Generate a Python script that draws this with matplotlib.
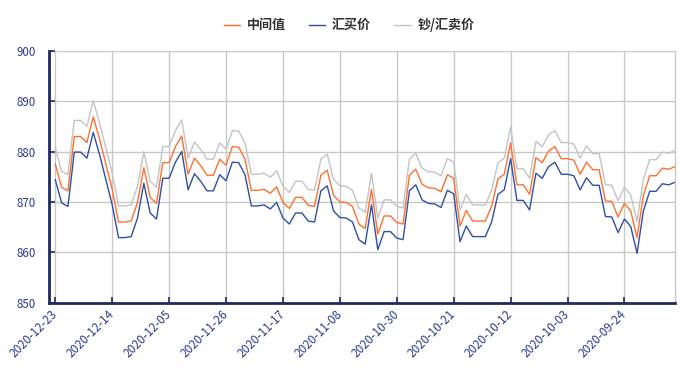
import matplotlib
matplotlib.use("Agg")
import matplotlib.pyplot as plt

plt.rcParams['font.family'] = ['Noto Sans CJK SC', 'DejaVu Sans']

# 2020-12-23 (left) back to 2020-09-16 (right), one value per day
tick_labels = ["2020-12-23", "2020-12-14", "2020-12-05", "2020-11-26", "2020-11-17",
               "2020-11-08", "2020-10-30", "2020-10-21", "2020-10-12", "2020-10-03",
               "2020-09-24"]

mid = [877.5, 872.9, 872.2, 883.0, 883.0, 881.8, 886.9, 882.5, 877.5, 872.5,
       866.0, 866.0, 866.2, 869.9, 876.8, 870.9, 869.7, 877.8, 877.8, 881.0,
       883.1, 875.5, 878.7, 877.2, 875.3, 875.3, 878.5, 877.3, 881.0, 880.9,
       878.5, 872.3, 872.3, 872.5, 871.7, 873.0, 869.9, 868.7, 870.9, 870.9,
       869.3, 869.1, 875.3, 876.3, 871.3, 870.0, 869.9, 869.1, 865.6, 864.7,
       872.5, 863.6, 867.2, 867.2, 865.9, 865.6, 875.3, 876.5, 873.5, 872.8,
       872.7, 872.0, 875.4, 874.7, 865.2, 868.3, 866.2, 866.2, 866.2, 869.1,
       874.6, 875.5, 881.7, 873.4, 873.4, 871.5, 878.8, 877.8, 880.1, 881.0,
       878.6, 878.6, 878.3, 875.5, 877.9, 876.4, 876.4, 870.2, 870.1, 867.0,
       869.7, 868.2, 862.9, 871.3, 875.2, 875.2, 876.7, 876.5, 877.0]

buy = [874.4, 869.8, 869.1, 879.9, 879.9, 878.7, 883.8, 879.4, 874.4, 869.4,
       862.9, 862.9, 863.1, 866.8, 873.7, 867.8, 866.6, 874.7, 874.7, 877.9,
       880.0, 872.4, 875.6, 874.1, 872.2, 872.2, 875.4, 874.2, 877.9, 877.8,
       875.4, 869.2, 869.2, 869.4, 868.6, 869.9, 866.8, 865.6, 867.8, 867.8,
       866.2, 866.0, 872.2, 873.2, 868.2, 866.9, 866.8, 866.0, 862.5, 861.6,
       869.4, 860.5, 864.1, 864.1, 862.8, 862.5, 872.2, 873.4, 870.4, 869.7,
       869.6, 868.9, 872.3, 871.6, 862.1, 865.2, 863.1, 863.1, 863.1, 866.0,
       871.5, 872.4, 878.6, 870.3, 870.3, 868.4, 875.7, 874.7, 877.0, 877.9,
       875.5, 875.5, 875.2, 872.4, 874.8, 873.3, 873.3, 867.1, 867.0, 863.9,
       866.6, 865.1, 859.8, 868.2, 872.1, 872.1, 873.6, 873.4, 873.9]

sell = [880.7, 876.1, 875.4, 886.2, 886.2, 885.0, 890.1, 885.7, 880.7, 875.7,
        869.2, 869.2, 869.4, 873.1, 880.0, 874.1, 872.9, 881.0, 881.0, 884.2,
        886.3, 878.7, 881.9, 880.4, 878.5, 878.5, 881.7, 880.5, 884.2, 884.1,
        881.7, 875.5, 875.5, 875.7, 874.9, 876.2, 873.1, 871.9, 874.1, 874.1,
        872.5, 872.3, 878.5, 879.5, 874.5, 873.2, 873.1, 872.3, 868.8, 867.9,
        875.7, 866.8, 870.4, 870.4, 869.1, 868.8, 878.5, 879.7, 876.7, 876.0,
        875.9, 875.2, 878.6, 877.9, 868.4, 871.5, 869.4, 869.4, 869.4, 872.3,
        877.8, 878.7, 884.9, 876.6, 876.6, 874.7, 882.0, 881.0, 883.3, 884.2,
        881.8, 881.8, 881.5, 878.7, 881.1, 879.6, 879.6, 873.4, 873.3, 870.2,
        872.9, 871.4, 866.1, 874.5, 878.4, 878.4, 879.9, 879.7, 880.2]

navy = '#1f2b5e'
label_color = '#2b3a8f'

fig = plt.figure(figsize=(6.93, 3.77), dpi=100)
ax = fig.add_axes([49.3 / 693, 1 - 302.5 / 377, 625.7 / 693, 251.5 / 377])

x = list(range(len(mid)))
ax.plot(x, mid, color='#ff7030', lw=1.0, label='中间值', zorder=3)
ax.plot(x, buy, color='#2f50a8', lw=1.0, label='汇买价', zorder=3)
ax.plot(x, sell, color='#c4c4c4', lw=1.0, label='钞/汇卖价', zorder=2)

ax.set_xlim(-0.95, len(mid) - 1)
ax.set_ylim(850, 900)
ax.set_yticks([850, 860, 870, 880, 890, 900])
ax.set_xticks(list(range(0, len(mid), 9)))
ax.set_xticklabels(tick_labels, rotation=45, ha='right', va='center',
                   rotation_mode='anchor')

ax.grid(True, color='#c8c8c8', lw=1.0)
ax.set_axisbelow(True)

ax.spines['top'].set_visible(False)
ax.spines['right'].set_color('#c8c8c8')
ax.spines['right'].set_linewidth(1.0)
ax.spines['left'].set_color(navy)
ax.spines['left'].set_linewidth(2.0)
ax.spines['bottom'].set_color(navy)
ax.spines['bottom'].set_linewidth(2.0)

ax.tick_params(axis='y', direction='in', length=4, width=1.2, color=navy,
               labelsize=8.3, labelcolor=label_color, pad=10)
ax.tick_params(axis='x', direction='in', length=4, width=1.2, color=navy,
               labelsize=8.5, labelcolor=label_color, pad=7)

leg = fig.legend(loc='center', bbox_to_anchor=(349 / 693, 1 - 25 / 377), ncol=3,
                 frameon=False, handlelength=1.25, handletextpad=0.5,
                 columnspacing=1.8, prop={'size': 9.4, 'weight': 'bold'})
for t in leg.get_texts():
    t.set_color('#333333')

fig.savefig('out.png', dpi=100)
